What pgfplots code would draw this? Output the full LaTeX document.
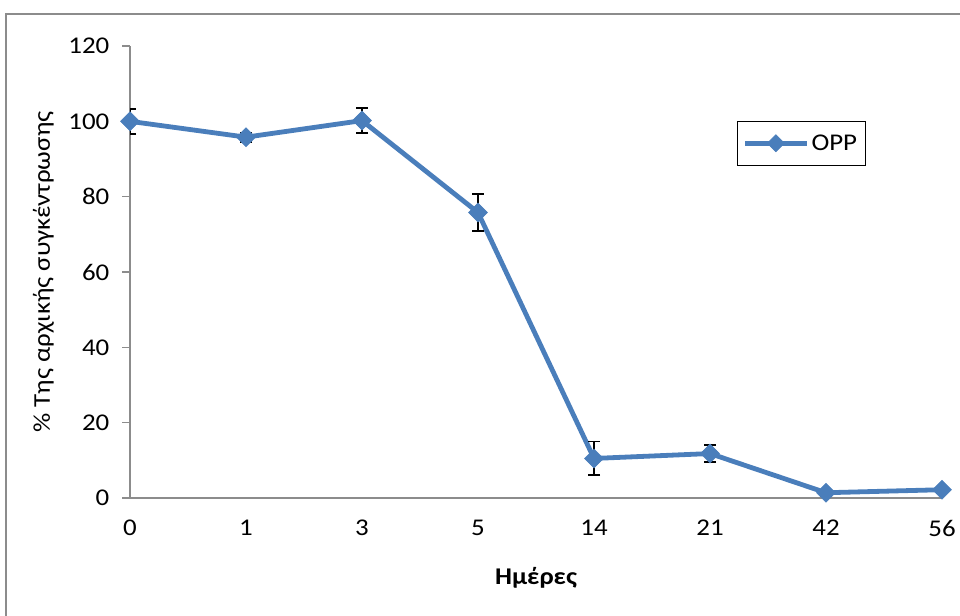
\documentclass[border=0pt]{standalone}
\usepackage{pgfplots}
\pgfplotsset{compat=1.18}
\usepackage{fontspec}
\setmainfont{Carlito}[FakeStretch=1.12]
\definecolor{xlblue}{HTML}{4A7EBB}
\definecolor{frame}{HTML}{8C8C8C}
\begin{document}
\begin{tikzpicture}
\path[use as bounding box] (0pt,0pt) rectangle (720pt,461.25pt);
\draw[frame,line width=2pt] (4.5pt,-5pt) -- (4.5pt,450.75pt) -- (725pt,450.75pt);
\begin{axis}[
  at={(97.5pt,87.75pt)}, anchor=origin,
  scale only axis, width=609pt, height=339pt,
  xmin=0, xmax=7, ymin=0, ymax=120,
  xtick={0,...,7}, xticklabels={0,1,3,5,14,21,42,56},
  ytick={0,20,...,120},
  axis x line*=bottom, axis y line*=left,
  x axis line style={draw=frame, line width=0.8pt, -},
  y axis line style={draw=frame, line width=0.8pt, -},
  xtick style={draw=none},
  ytick style={draw=frame, line width=0.8pt},
  tick align=outside, major tick length=6pt,
  tick label style={font=\fontsize{18}{21}\selectfont, text=black},
  /pgf/number format/assume math mode=true,
  xticklabel style={yshift=-7pt},
  yticklabel style={xshift=-6pt},
  ylabel={\% Της αρχικής συγκέντρωσης},
  ylabel style={font=\fontsize{18}{21}\selectfont, yshift=4pt},
  xlabel={\textbf{Ημέρες}},
  xlabel style={font=\fontsize{18}{21}\selectfont, yshift=-16pt},
  legend style={at={(rel axis cs:0.7475,0.835)}, anchor=north west,
    draw=black, line width=0.8pt, font=\fontsize{18}{21}\selectfont,
    inner xsep=4pt, inner ysep=8pt},
  legend image code/.code={
    \draw[xlblue, line width=3.5pt] (-2pt,0pt) -- (44pt,0pt);
    \draw[xlblue, fill=xlblue, line width=0.5pt] plot[mark=square*, mark size=4.5pt, mark options={rotate=45}] coordinates {(21pt,0pt)};
  },
]
\addplot[xlblue, line width=3.6pt, mark=square*, mark size=5pt,
  mark options={fill=xlblue, draw=xlblue, line width=0.5pt, rotate=45},
  error bars/.cd, y dir=both, y explicit,
  error bar style={black, line width=1.4pt},
  error mark options={black, line width=1.4pt, mark size=4.5pt, rotate=90}]
  table[x=x, y=y, y error=e] {
x y e
0 100 3.3
1 95.8 1.2
2 100.2 3.3
3 75.8 4.8
4 10.5 4.5
5 11.8 2.3
6 1.4 0.8
7 2.2 0.8
};
\addlegendentry{OPP}
\end{axis}
\end{tikzpicture}
\end{document}
